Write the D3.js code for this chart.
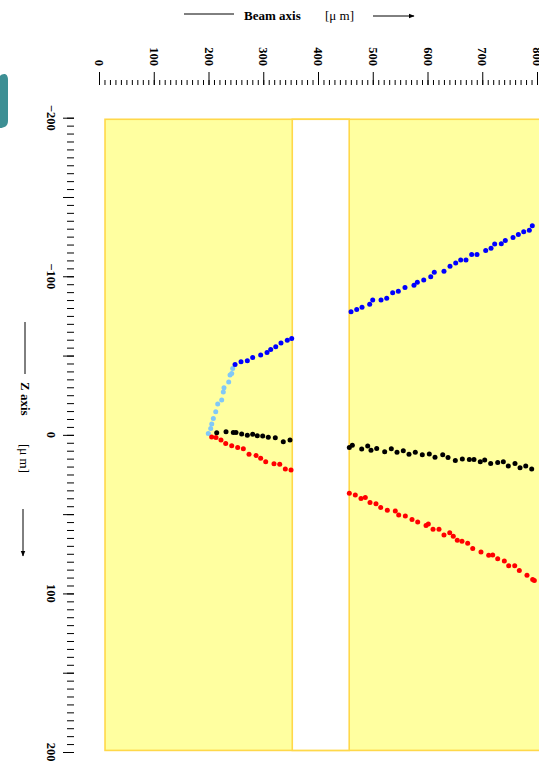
<!DOCTYPE html>
<html>
<head>
<meta charset="utf-8">
<script src="https://cdn.jsdelivr.net/npm/d3@7"></script>
<style>
  body { margin: 0; background: #fff; }
  text { font-family: "Liberation Serif", "DejaVu Serif", serif; }
</style>
</head>
<body>
<div id="chart"></div>
<script>
// hits as [beam position µm, z µm]
const lightBlueTrack = [
  [199.6, -0.9], [204.0, -4.0], [205.9, -6.8], [208.8, -10.3], [213.2, -14.5],
  [216.8, -19.4], [224.1, -21.9], [227.0, -27.1], [228.3, -29.7], [236.9, -33.4],
  [239.3, -37.7], [242.4, -38.7], [244.2, -41.9]
];
const blueTrack = [
  [248.5, -44.4], [259.4, -46.1], [270.9, -46.7], [280.7, -48.8], [295.3, -50.3],
  [306.9, -52.0], [313.6, -53.9], [322.8, -55.5], [332.4, -58.0], [343.9, -59.7],
  [352.0, -60.8],
  [460.3, -77.6], [470.7, -79.1], [480.4, -80.4], [494.4, -82.3], [499.9, -85.0],
  [515.1, -85.0], [525.5, -86.2], [536.4, -89.6], [546.7, -90.5], [558.9, -93.0],
  [575.3, -94.3], [581.4, -96.3], [593.1, -97.6], [605.9, -99.7], [612.4, -102.5],
  [630.1, -103.1], [641.1, -106.4], [651.5, -108.3], [660.6, -110.2], [670.3, -110.2],
  [680.7, -113.8], [690.4, -113.8], [706.3, -116.3], [716.0, -117.6], [722.7, -120.3],
  [734.8, -120.5], [742.1, -122.6], [756.2, -124.5], [765.9, -126.4], [775.7, -128.1],
  [786.0, -129.1], [791.4, -131.9]
];
const blackTrack = [
  [215.0, -1.3], [232.0, -1.9], [245.3, -1.5], [250.2, -1.5], [260.6, -0.6],
  [270.9, 0.2], [280.7, -0.4], [289.1, 0.6], [299.0, 0.8], [309.2, 1.5],
  [322.0, 1.9], [336.6, 4.4], [348.9, 3.3],
  [457.2, 7.9], [462.7, 6.5], [479.8, 9.0], [490.8, 7.1], [496.8, 9.7],
  [507.2, 8.6], [521.8, 10.7], [533.9, 8.8], [544.3, 10.9], [555.8, 10.1],
  [566.2, 12.2], [577.7, 10.9], [590.5, 12.6], [603.3, 12.0], [613.7, 14.1],
  [627.8, 12.6], [637.5, 14.3], [650.8, 16.2], [663.6, 15.3], [676.4, 15.5],
  [684.9, 15.5], [696.4, 17.0], [704.5, 15.8], [715.4, 18.0], [728.2, 17.4],
  [738.5, 17.0], [747.6, 19.6], [759.8, 18.0], [769.0, 20.8], [779.4, 19.7],
  [790.3, 21.5]
];
const redTrack = [
  [205.8, 1.3], [213.7, 1.6], [222.8, 3.3], [231.4, 5.4], [242.4, 6.9],
  [253.3, 7.9], [263.6, 8.8], [274.0, 12.2], [286.8, 13.0], [295.3, 14.7],
  [304.5, 17.0], [319.6, 18.3], [330.1, 18.5], [340.3, 21.5], [350.7, 22.1],
  [457.2, 36.8], [468.1, 38.0], [478.5, 40.1], [486.4, 39.5], [495.0, 42.6],
  [505.9, 43.5], [514.5, 45.8], [526.6, 47.5], [541.2, 48.1], [547.4, 50.5],
  [559.5, 51.1], [571.7, 53.4], [582.1, 54.9], [597.3, 57.2], [601.5, 56.2],
  [610.1, 59.5], [621.0, 59.5], [630.1, 63.1], [640.6, 61.8], [647.1, 63.9],
  [654.4, 66.4], [663.0, 67.1], [673.4, 68.3], [682.6, 71.7], [697.7, 73.8],
  [711.8, 75.9], [719.1, 75.7], [728.2, 78.2], [740.3, 79.5], [748.3, 82.6],
  [759.3, 82.6], [767.7, 85.6], [781.7, 88.5], [792.1, 91.2], [795.1, 91.9]
];

const beamTicks = [0, 100, 200, 300, 400, 500, 600, 700, 800];
const zTicks = [-200, -100, 0, 100, 200];

// detector volume and the gap between the two sensors
const detectorBeam = [11, 900];
const detectorZ = [-199, 199];
const gapBeam = [353, 457];

const W = 539, H = 766;

const svg = d3
  .select("#chart")
  .append("svg")
  .attr("width", W)
  .attr("height", H);

const x = d3.scaleLinear().domain([0, 800]).range([99, 537]);
const y = d3.scaleLinear().domain([-200, 200]).range([117.7, 752]);

// little teal blob on the left edge
svg
  .append("path")
  .attr("d", "M0,76 C3,73 8,73 8,80 L8,121 C8,126 4,128 0,128 Z")
  .attr("fill", "#3d8f94");

// detector
svg
  .append("rect")
  .attr("x", x(detectorBeam[0]))
  .attr("y", y(detectorZ[0]))
  .attr("width", x(detectorBeam[1]) - x(detectorBeam[0]))
  .attr("height", y(detectorZ[1]) - y(detectorZ[0]))
  .attr("fill", "#ffffa0")
  .attr("stroke", "#ffd84a")
  .attr("stroke-width", 1.6);

svg
  .append("rect")
  .attr("x", x(gapBeam[0]))
  .attr("y", y(detectorZ[0]))
  .attr("width", x(gapBeam[1]) - x(gapBeam[0]))
  .attr("height", y(detectorZ[1]) - y(detectorZ[0]))
  .attr("fill", "#fff")
  .attr("stroke", "#ffd84a")
  .attr("stroke-width", 1.6);

// top axis (beam)
const topMajor = d3.axisTop(x).tickValues(beamTicks).tickSize(13).tickFormat("");
const topMinor = d3.axisTop(x).tickValues(d3.range(0, 801, 10)).tickSize(5).tickFormat("");

svg.append("g").attr("transform", "translate(0,85)").call(topMinor);
svg.append("g").attr("transform", "translate(0,85)").call(topMajor);

// left axis (z)
const leftMajor = d3.axisLeft(y).tickValues(d3.range(-200, 201, 50)).tickSize(11).tickFormat("");
const leftMinor = d3.axisLeft(y).tickValues(d3.range(-200, 201, 5)).tickSize(7).tickFormat("");

svg.append("g").attr("transform", "translate(74,0)").call(leftMinor);
svg.append("g").attr("transform", "translate(74,0)").call(leftMajor);

svg.selectAll(".domain").remove();
svg.selectAll(".tick line").attr("stroke", "#000").attr("stroke-width", 1);

const fmt = (d) => (d < 0 ? "\u2212" + Math.abs(d) : String(d));

svg
  .selectAll(".beam-label")
  .data(beamTicks)
  .enter()
  .append("text")
  .attr("class", "beam-label")
  .attr("transform", (d) => `translate(${x(d)},66) rotate(90)`)
  .attr("text-anchor", "end")
  .attr("dominant-baseline", "central")
  .attr("font-size", 12.5)
  .attr("font-weight", "bold")
  .text(fmt);

svg
  .selectAll(".z-label")
  .data(zTicks)
  .enter()
  .append("text")
  .attr("class", "z-label")
  .attr("transform", (d) => `translate(51,${y(d)}) rotate(90)`)
  .attr("text-anchor", "middle")
  .attr("dominant-baseline", "central")
  .attr("font-size", 12.5)
  .attr("font-weight", "bold")
  .text(fmt);

// axis titles
const defs = svg.append("defs");
defs
  .append("marker")
  .attr("id", "arrow")
  .attr("viewBox", "0 0 10 10")
  .attr("refX", 9)
  .attr("refY", 5)
  .attr("markerWidth", 6)
  .attr("markerHeight", 6)
  .attr("markerUnits", "userSpaceOnUse")
  .attr("orient", "auto")
  .append("path")
  .attr("d", "M0,1 L10,5 L0,9 Z")
  .attr("fill", "#000");

svg.append("line").attr("x1", 184).attr("x2", 234).attr("y1", 14).attr("y2", 14).attr("stroke", "#000");
svg.append("text").attr("x", 244).attr("y", 20).attr("font-size", 13).attr("font-weight", "bold").text("Beam axis");
svg.append("text").attr("x", 325).attr("y", 20).attr("font-size", 13).text("[\u03bc m]");
svg
  .append("line")
  .attr("x1", 373).attr("x2", 414).attr("y1", 16).attr("y2", 16)
  .attr("stroke", "#000")
  .attr("marker-end", "url(#arrow)");

svg.append("line").attr("x1", 25).attr("x2", 25).attr("y1", 322).attr("y2", 374).attr("stroke", "#000");
svg
  .append("text")
  .attr("transform", "translate(25,382) rotate(90)")
  .attr("dominant-baseline", "central")
  .attr("font-size", 13)
  .attr("font-weight", "bold")
  .text("Z axis");
svg
  .append("text")
  .attr("transform", "translate(24,444) rotate(90)")
  .attr("dominant-baseline", "central")
  .attr("font-size", 13)
  .text("[\u03bc m]");
svg
  .append("line")
  .attr("x1", 23).attr("x2", 23).attr("y1", 509).attr("y2", 556)
  .attr("stroke", "#000")
  .attr("marker-end", "url(#arrow)");

// hits
const tracks = [
  { pts: lightBlueTrack, color: "#80c8f8" },
  { pts: blueTrack, color: "#0000ff" },
  { pts: blackTrack, color: "#000000" },
  { pts: redTrack, color: "#ff0000" }
];

tracks.forEach((t) => {
  svg
    .append("g")
    .selectAll("circle")
    .data(t.pts)
    .enter()
    .append("circle")
    .attr("cx", (d) => x(d[0]))
    .attr("cy", (d) => y(d[1]))
    .attr("r", 2.5)
    .attr("fill", t.color);
});
</script>
</body>
</html>
